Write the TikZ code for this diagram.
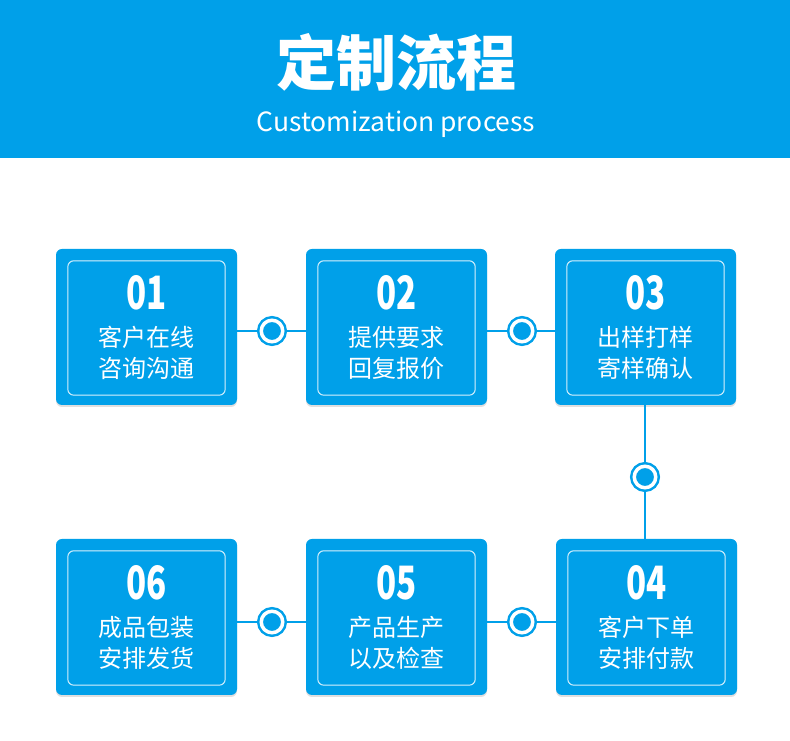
\documentclass[tikz,border=0pt]{standalone}
\usepackage{fontspec}
\usepackage{xcolor}
\usepackage{graphicx}
\usetikzlibrary{positioning, calc, shadows}
\newfontfamily\cjk{Noto Sans CJK SC}
\definecolor{procblue}{HTML}{00A0E9}
\newcommand{\stepnum}[1]{\scalebox{0.72}[1]{#1}}

\begin{document}
\begin{tikzpicture}[x=1pt, y=1pt,
    stepbox/.style={rectangle, fill=procblue, minimum width=181pt, minimum height=156pt,
        rounded corners=6pt, inner sep=0pt,
        drop shadow={shadow xshift=0pt, shadow yshift=-2pt, opacity=0.25, fill=gray}},
    frame/.style={draw=white!85!procblue, line width=1pt, rounded corners=6pt},
    numtext/.style={text=white, font=\cjk\bfseries\fontsize{46}{46}\selectfont, inner sep=0pt},
    steptext/.style={text=white, font=\cjk\fontsize{24}{31}\selectfont, align=center, inner sep=0pt},
    dot/.style={circle, fill=procblue, draw=procblue, double=white, double distance=3.5pt,
        line width=2.5pt, minimum size=21.5pt, inner sep=0pt, outer sep=4.25pt},
    link/.style={draw=procblue, line width=2pt}]
    \useasboundingbox (0,0) rectangle (790,741);
    \fill[white] (0,0) rectangle (790,741);
    % header
    \fill[procblue] (0,583) rectangle (790,741);
    \node[text=white, font=\cjk\bfseries\fontsize{60}{60}\selectfont] (title) at (396,679) {定制流程};
    \node[text=white, font=\cjk\fontsize{26.5}{26.5}\selectfont] (subtitle) at (396,617) {Customization process};
    % steps
    \node[stepbox] (b1) at (146.5,414) {};
    \node[stepbox] (b2) at (396.5,414) {};
    \node[stepbox] (b3) at (645.5,414) {};
    \node[stepbox] (b4) at (646.5,124) {};
    \node[stepbox] (b5) at (396.5,124) {};
    \node[stepbox] (b6) at (146.5,124) {};
    \foreach \b in {b1,b2,b3,b4,b5,b6}
        \draw[frame] ($(\b.south west)+(12,10)$) rectangle ($(\b.north east)+(-12,-12)$);
    \node[numtext] (n1) at ([yshift=34pt]b1.center) {\stepnum{01}};
    \node[numtext] (n2) at ([yshift=34pt]b2.center) {\stepnum{02}};
    \node[numtext] (n3) at ([yshift=34pt]b3.center) {\stepnum{03}};
    \node[numtext] (n4) at ([yshift=34pt]b4.center) {\stepnum{04}};
    \node[numtext] (n5) at ([yshift=34pt]b5.center) {\stepnum{05}};
    \node[numtext] (n6) at ([yshift=34pt]b6.center) {\stepnum{06}};
    \node[steptext] (t1) at ([yshift=-25.5pt]b1.center) {客户在线\\咨询沟通};
    \node[steptext] (t2) at ([yshift=-25.5pt]b2.center) {提供要求\\回复报价};
    \node[steptext] (t3) at ([yshift=-25.5pt]b3.center) {出样打样\\寄样确认};
    \node[steptext] (t4) at ([yshift=-25.5pt]b4.center) {客户下单\\安排付款};
    \node[steptext] (t5) at ([yshift=-25.5pt]b5.center) {产品生产\\以及检查};
    \node[steptext] (t6) at ([yshift=-25.5pt]b6.center) {成品包装\\安排发货};
    % connectors
    \node[dot] (c12) at (272,410) {};
    \node[dot] (c23) at (522,410) {};
    \node[dot] (c34) at (645,264) {};
    \node[dot] (c45) at (522,119) {};
    \node[dot] (c56) at (272,119) {};
    \draw[link] (b1.east |- c12) -- (c12) -- (b2.west |- c12);
    \draw[link] (b2.east |- c23) -- (c23) -- (b3.west |- c23);
    \draw[link] (b3.south -| c34) -- (c34) -- (b4.north -| c34);
    \draw[link] (b5.east |- c45) -- (c45) -- (b4.west |- c45);
    \draw[link] (b6.east |- c56) -- (c56) -- (b5.west |- c56);
\end{tikzpicture}
\end{document}
